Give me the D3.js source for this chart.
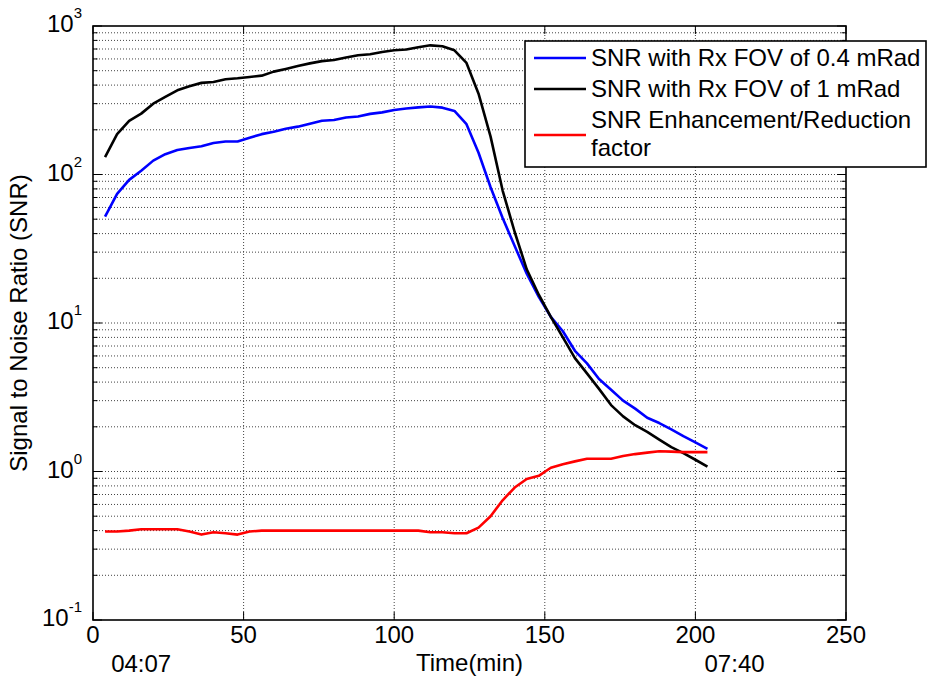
<!DOCTYPE html>
<html lang="en">
<head>
    <meta charset="UTF-8">
    <title>SNR vs Time</title>
    <script src="https://d3js.org/d3.v7.min.js"></script>
    <style>
        body { margin: 0; background: #fff; }
        text { font-family: "Liberation Sans", Arial, Helvetica, sans-serif; fill: #000; }
    </style>
</head>
<body>
    <script>
        // sample times (min) and the three curves
        const timeMin = [4, 8, 12, 16, 20, 24, 28, 32, 36, 40,
            44, 48, 52, 56, 60, 64, 68, 72, 76, 80,
            84, 88, 92, 96, 100, 104, 108, 112, 116, 120,
            124, 128, 132, 136, 140, 144, 148, 152, 156, 160,
            164, 168, 172, 176, 180, 184, 188, 192, 196, 200,
            204];

        // SNR with Rx FOV 0.4 mRad
        const snrFov04 = [52, 74, 92, 106, 124, 137, 146, 151, 155, 163,
            167, 167, 177, 187, 194, 203, 210, 220, 230, 233,
            242, 246, 256, 262, 272, 278, 283, 287, 282, 268,
            218, 140, 82, 51, 33, 21.5, 15, 11, 8.8, 6.5,
            5.35, 4.2, 3.55, 3.0, 2.65, 2.3, 2.12, 1.92, 1.73, 1.57,
            1.42];

        // SNR with Rx FOV 1 mRad
        const snrFov1 = [131, 187, 230, 257, 300, 333, 369, 393, 414, 420,
            438, 445, 454, 463, 493, 514, 538, 560, 580, 590,
            613, 635, 645, 668, 686, 695, 720, 741, 730, 686,
            564, 350, 180, 78, 41, 23, 15.5, 11, 8.0, 5.8,
            4.58, 3.6, 2.8, 2.35, 2.05, 1.85, 1.64, 1.46, 1.33, 1.2,
            1.08];

        // enhancement / reduction factor
        const snrFactor = [0.394, 0.394, 0.40, 0.408, 0.408, 0.408, 0.408, 0.394, 0.376, 0.39,
            0.384, 0.376, 0.394, 0.40, 0.40, 0.40, 0.40, 0.40, 0.40, 0.40,
            0.40, 0.40, 0.40, 0.40, 0.40, 0.40, 0.40, 0.39, 0.39, 0.384,
            0.384, 0.419, 0.50, 0.64, 0.78, 0.89, 0.935, 1.06, 1.12, 1.17,
            1.22, 1.22, 1.22, 1.27, 1.31, 1.34, 1.37, 1.36, 1.35, 1.35,
            1.35];

        const xTicks = [0, 50, 100, 150, 200, 250];
        const yExponents = [-1, 0, 1, 2, 3];
        const clockLabels = ['04:07', '07:40'];
        const clockTimes = [16, 213];
        const legendLabels = [
            ['SNR with Rx FOV of 0.4 mRad'],
            ['SNR with Rx FOV of 1 mRad'],
            ['SNR Enhancement/Reduction', 'factor']
        ];
        const seriesColors = ['#0000ff', '#000000', '#ff0000'];

        function drawChart() {
            const width = 927;
            const height = 682;
            const margin = { left: 93, top: 26, right: 81, bottom: 62 };
            const w = width - margin.left - margin.right;
            const h = height - margin.top - margin.bottom;

            const svg = d3.select('body').append('svg')
                .attr('width', width)
                .attr('height', height);

            const g = svg.append('g')
                .attr('transform', `translate(${margin.left},${margin.top})`);

            const x = d3.scaleLinear().domain([0, 250]).range([0, w]);
            const y = d3.scaleLog().domain([0.1, 1000]).range([h, 0]);

            // minor (2..9) and major log values
            const minorVals = [];
            yExponents.slice(0, -1).forEach(e => {
                for (let k = 2; k <= 9; k++) minorVals.push(k * Math.pow(10, e));
            });
            const majorVals = yExponents.map(e => Math.pow(10, e));

            // dotted grid
            const grid = g.append('g')
                .attr('stroke', '#444')
                .attr('stroke-width', 1)
                .attr('stroke-dasharray', '1,2');
            grid.selectAll('.hy')
                .data(minorVals.concat(majorVals.slice(1, -1)))
                .join('line')
                .attr('x1', 0).attr('x2', w)
                .attr('y1', d => y(d)).attr('y2', d => y(d));
            grid.selectAll('.vx')
                .data(xTicks.slice(1, -1))
                .join('line')
                .attr('y1', 0).attr('y2', h)
                .attr('x1', d => x(d)).attr('x2', d => x(d));

            // ticks on all four sides, pointing inward
            const ticks = g.append('g').attr('stroke', '#000').attr('stroke-width', 1);
            majorVals.concat(minorVals).forEach(v => {
                const len = majorVals.includes(v) ? 9 : 4.5;
                ticks.append('line').attr('x1', 0).attr('x2', len).attr('y1', y(v)).attr('y2', y(v));
                ticks.append('line').attr('x1', w).attr('x2', w - len).attr('y1', y(v)).attr('y2', y(v));
            });
            xTicks.forEach(v => {
                ticks.append('line').attr('x1', x(v)).attr('x2', x(v)).attr('y1', h).attr('y2', h - 8);
                ticks.append('line').attr('x1', x(v)).attr('x2', x(v)).attr('y1', 0).attr('y2', 8);
            });

            // series lines
            const allSeries = [snrFov04, snrFov1, snrFactor];
            const line = d3.line()
                .x((d, i) => x(timeMin[i]))
                .y(d => y(d));
            allSeries.forEach((s, i) => {
                g.append('path')
                    .datum(s)
                    .attr('fill', 'none')
                    .attr('stroke', seriesColors[i])
                    .attr('stroke-width', 2.6)
                    .attr('stroke-linejoin', 'round')
                    .attr('d', line);
            });

            // frame
            g.append('rect')
                .attr('width', w).attr('height', h)
                .attr('fill', 'none')
                .attr('stroke', '#000')
                .attr('stroke-width', 1.6);

            // x tick labels
            g.selectAll('.xl')
                .data(xTicks)
                .join('text')
                .attr('x', d => x(d))
                .attr('y', h + 23)
                .attr('text-anchor', 'middle')
                .attr('font-size', 24)
                .text(d => d);

            // y tick labels 10^n
            yExponents.forEach(e => {
                const t = g.append('text')
                    .attr('x', -11)
                    .attr('y', y(Math.pow(10, e)) + 6)
                    .attr('text-anchor', 'end')
                    .attr('font-size', 24);
                t.append('tspan').text('10');
                t.append('tspan')
                    .attr('dy', -14)
                    .attr('font-size', 15)
                    .text(e);
            });

            // clock labels under the time axis
            clockLabels.forEach((c, i) => {
                g.append('text')
                    .attr('x', x(clockTimes[i]))
                    .attr('y', h + 52)
                    .attr('text-anchor', 'middle')
                    .attr('font-size', 24)
                    .text(c);
            });

            // axis titles
            g.append('text')
                .attr('x', x(125))
                .attr('y', h + 51)
                .attr('text-anchor', 'middle')
                .attr('font-size', 24)
                .text('Time(min)');

            g.append('text')
                .attr('transform', `translate(${-66},${h / 2}) rotate(-90)`)
                .attr('text-anchor', 'middle')
                .attr('font-size', 24)
                .text('Signal to Noise Ratio (SNR)');

            // legend box
            const lg = svg.append('g').attr('transform', 'translate(525,41)');
            lg.append('rect')
                .attr('width', 401).attr('height', 126)
                .attr('fill', '#fff')
                .attr('stroke', '#000')
                .attr('stroke-width', 1.6);
            const rowY = [17, 48, 94];
            legendLabels.forEach((lines, i) => {
                lg.append('line')
                    .attr('x1', 9).attr('x2', 61)
                    .attr('y1', rowY[i]).attr('y2', rowY[i])
                    .attr('stroke', seriesColors[i])
                    .attr('stroke-width', 2.6);
                const firstBase = lines.length > 1 ? rowY[i] - 7 : rowY[i] + 8;
                lines.forEach((l, j) => {
                    lg.append('text')
                        .attr('x', 66)
                        .attr('y', firstBase + j * 28)
                        .attr('font-size', 24)
                        .text(l);
                });
            });
        }

        drawChart();
    </script>
</body>
</html>
